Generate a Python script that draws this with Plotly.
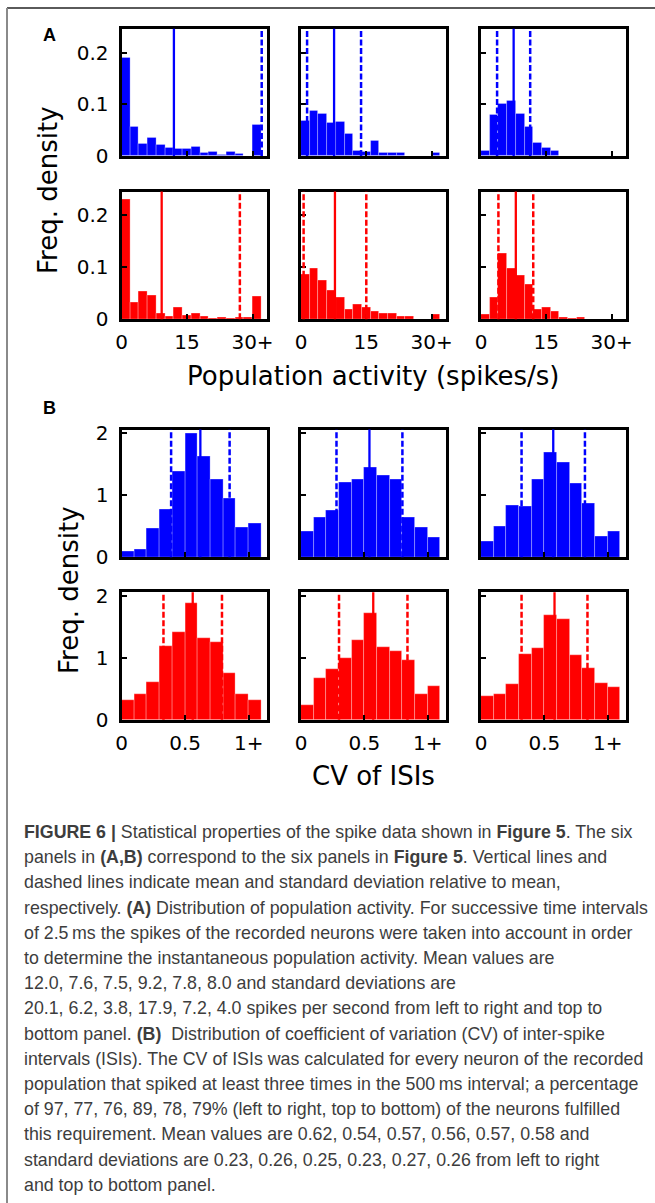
import plotly.graph_objects as go

W, H = 655, 1203

# ---- data ----
# population activity: bins of 2 spikes/s, last bin collects 30+
pop_edges = [0, 2, 4, 6, 8, 10, 12, 14, 16, 18, 20, 22, 24, 26, 28, 30, 32]
pop_top_left = [0.19, 0.057, 0.023, 0.036, 0.021, 0.016, 0.013, 0.013, 0.018, 0.006, 0.008, 0.003, 0.008, 0.004, 0.001, 0.06]
pop_top_mid = [0.069, 0.087, 0.082, 0.064, 0.067, 0.042, 0.011, 0.008, 0.029, 0.006, 0.006, 0.006, 0.0, 0.0, 0.0, 0.006]
pop_top_right = [0.010, 0.079, 0.100, 0.107, 0.082, 0.057, 0.026, 0.016, 0.011, 0.0, 0.0, 0.0, 0.0, 0.0, 0.0, 0.0]
pop_bot_left = [0.23, 0.032, 0.053, 0.046, 0.011, 0.006, 0.022, 0.008, 0.011, 0.006, 0.001, 0.004, 0.001, 0.004, 0.004, 0.044]
pop_bot_mid = [0.086, 0.098, 0.074, 0.056, 0.041, 0.018, 0.029, 0.022, 0.014, 0.011, 0.011, 0.006, 0.006, 0.0, 0.0, 0.009]
pop_bot_right = [0.009, 0.041, 0.126, 0.098, 0.084, 0.067, 0.019, 0.022, 0.014, 0.004, 0.001, 0.004, 0.0, 0.0, 0.0, 0.0]
pop_mean = [12.0, 7.6, 7.5, 9.2, 7.8, 8.0]
pop_std = [20.1, 6.2, 3.8, 17.9, 7.2, 4.0]

# CV of ISIs: bins of 0.1, last bin collects 1+
cv_edges = [0.0, 0.1, 0.2, 0.3, 0.4, 0.5, 0.6, 0.7, 0.8, 0.9, 1.0, 1.1]
cv_top_left = [0.10, 0.12, 0.46, 0.77, 1.39, 2.0, 1.63, 1.25, 0.95, 0.48, 0.55]
cv_top_mid = [0.41, 0.64, 0.76, 1.2, 1.25, 1.44, 1.32, 1.25, 0.64, 0.48, 0.32]
cv_top_right = [0.25, 0.50, 0.84, 0.82, 1.26, 1.69, 1.52, 1.19, 0.86, 0.34, 0.41]
cv_bot_left = [0.31, 0.42, 0.60, 1.19, 1.42, 1.89, 1.32, 1.26, 0.76, 0.41, 0.32]
cv_bot_mid = [0.23, 0.67, 0.81, 1.0, 1.28, 1.72, 1.17, 1.10, 0.97, 0.42, 0.55]
cv_bot_right = [0.38, 0.41, 0.57, 1.06, 1.15, 1.69, 1.63, 1.05, 0.84, 0.59, 0.52]
cv_mean = [0.62, 0.54, 0.57, 0.56, 0.57, 0.58]
cv_std = [0.23, 0.26, 0.25, 0.23, 0.27, 0.26]

pop_ticks = [0, 15, 30]
pop_ticktext = ["0", "15", "30+"]
pop_yticks = [0, 0.1, 0.2]
pop_yticktext = ["0", "0.1", "0.2"]
cv_ticks = [0, 0.5, 1.0]
cv_ticktext = ["0", "0.5", "1+"]
cv_yticks = [0, 1, 2]
cv_yticktext = ["0", "1", "2"]

caption_lines = [
    "<b>FIGURE 6 |</b> Statistical properties of the spike data shown in <b>Figure 5</b>. The six",
    "panels in <b>(A,B)</b> correspond to the six panels in <b>Figure 5</b>. Vertical lines and",
    "dashed lines indicate mean and standard deviation relative to mean,",
    "respectively. <b>(A)</b> Distribution of population activity. For successive time intervals",
    "of 2.5\u2009ms the spikes of the recorded neurons were taken into account in order",
    "to determine the instantaneous population activity. Mean values are",
    "12.0, 7.6, 7.5, 9.2, 7.8, 8.0 and standard deviations are",
    "20.1, 6.2, 3.8, 17.9, 7.2, 4.0 spikes per second from left to right and top to",
    "bottom panel. <b>(B)</b>  Distribution of coefficient of variation (CV) of inter-spike",
    "intervals (ISIs). The CV of ISIs was calculated for every neuron of the recorded",
    "population that spiked at least three times in the 500\u2009ms interval; a percentage",
    "of 97, 77, 76, 89, 78, 79% (left to right, top to bottom) of the neurons fulfilled",
    "this requirement. Mean values are 0.62, 0.54, 0.57, 0.56, 0.57, 0.58 and",
    "standard deviations are 0.23, 0.26, 0.25, 0.23, 0.27, 0.26 from left to right",
    "and top to bottom panel.",
]

# ---- layout in pixels ----
cols_px = [(121.5, 266.5), (301, 445.5), (481, 625.5)]
rows_px = [(28.8, 156), (191.5, 319.2), (429.5, 557.2), (592.2, 719.8)]

def fx(p):
    return p / W

def fy(p):
    return 1 - p / H

panels = [
    # row, col, edges, values, mean, std, color, kind
    (0, 0, pop_edges, pop_top_left, pop_mean[0], pop_std[0], "blue", "pop"),
    (0, 1, pop_edges, pop_top_mid, pop_mean[1], pop_std[1], "blue", "pop"),
    (0, 2, pop_edges, pop_top_right, pop_mean[2], pop_std[2], "blue", "pop"),
    (1, 0, pop_edges, pop_bot_left, pop_mean[3], pop_std[3], "red", "pop"),
    (1, 1, pop_edges, pop_bot_mid, pop_mean[4], pop_std[4], "red", "pop"),
    (1, 2, pop_edges, pop_bot_right, pop_mean[5], pop_std[5], "red", "pop"),
    (2, 0, cv_edges, cv_top_left, cv_mean[0], cv_std[0], "blue", "cv"),
    (2, 1, cv_edges, cv_top_mid, cv_mean[1], cv_std[1], "blue", "cv"),
    (2, 2, cv_edges, cv_top_right, cv_mean[2], cv_std[2], "blue", "cv"),
    (3, 0, cv_edges, cv_bot_left, cv_mean[3], cv_std[3], "red", "cv"),
    (3, 1, cv_edges, cv_bot_mid, cv_mean[4], cv_std[4], "red", "cv"),
    (3, 2, cv_edges, cv_bot_right, cv_mean[5], cv_std[5], "red", "cv"),
]

tick_font = dict(family="DejaVu Sans", size=20, color="black")
fig = go.Figure()
layout = {}
shapes = []

for k, (r, c, edges, vals, mean, std, color, kind) in enumerate(panels):
    n = "" if k == 0 else str(k + 1)
    centers = [(edges[i] + edges[i + 1]) / 2 for i in range(len(vals))]
    widths = [edges[i + 1] - edges[i] for i in range(len(vals))]
    fig.add_trace(go.Bar(
        x=centers, y=vals, width=widths,
        marker=dict(color=color, line=dict(color="rgba(255,255,255,0.35)", width=0.8)),
        xaxis="x" + n, yaxis="y" + n, showlegend=False, hoverinfo="skip"))

    if kind == "pop":
        xr, xt, xtt, yr, yt, ytt = [0, 33.2], pop_ticks, pop_ticktext, [0, 0.246], pop_yticks, pop_yticktext
    else:
        xr, xt, xtt, yr, yt, ytt = [0, 1.14], cv_ticks, cv_ticktext, [0, 2.06], cv_yticks, cv_yticktext

    x0, x1 = cols_px[c]
    y0, y1 = rows_px[r]
    common = dict(showline=True, linecolor="black", linewidth=3, mirror=True,
                  ticks="inside", ticklen=5, tickwidth=1.5, tickcolor="black",
                  showgrid=False, zeroline=False, tickfont=tick_font, fixedrange=True,
                  automargin=False)
    layout["xaxis" + n] = dict(common, domain=[fx(x0), fx(x1)], range=xr, anchor="y" + n,
                               tickvals=xt, ticktext=xtt, showticklabels=(r in (1, 3)),
                               ticklabelstandoff=3)
    layout["yaxis" + n] = dict(common, domain=[fy(y1), fy(y0)], range=yr, anchor="x" + n,
                               tickvals=yt, ticktext=ytt, showticklabels=(c == 0),
                               ticklabelstandoff=6)

    for val, dash, lw in [(mean, "solid", 2.3), (mean - std, "6px,2.5px", 2.5), (mean + std, "6px,2.5px", 2.5)]:
        if xr[0] <= val <= xr[1]:
            shapes.append(dict(type="line", xref="x" + n, yref="y" + n + " domain",
                               x0=val, x1=val, y0=0, y1=1,
                               line=dict(color=color, width=lw, dash=dash)))

# outer frame of the figure box
shapes.append(dict(type="line", xref="paper", yref="paper", x0=fx(7), x1=1, y0=fy(8), y1=fy(8),
                   line=dict(color="#5a5a5a", width=2)))
shapes.append(dict(type="line", xref="paper", yref="paper", x0=fx(7), x1=fx(7), y0=fy(8), y1=0,
                   line=dict(color="#8a8a8a", width=2)))

title_font = dict(family="DejaVu Sans", size=26, color="black")
label_font = dict(family="Liberation Sans", size=18, color="black")
annotations = [
    dict(text="<b>A</b>", x=fx(49), y=fy(35), font=label_font, xanchor="center", yanchor="middle"),
    dict(text="<b>B</b>", x=fx(49), y=fy(408), font=label_font, xanchor="center", yanchor="middle"),
    dict(text="Freq. density", x=fx(48), y=fy(190), textangle=-90, font=title_font,
         xanchor="center", yanchor="middle"),
    dict(text="Freq. density", x=fx(69), y=fy(590), textangle=-90, font=title_font,
         xanchor="center", yanchor="middle"),
    dict(text="Population activity (spikes/s)", x=fx(373), y=fy(376), font=title_font,
         xanchor="center", yanchor="middle"),
    dict(text="CV of ISIs", x=fx(373), y=fy(776), font=title_font,
         xanchor="center", yanchor="middle"),
]

for i, line in enumerate(caption_lines):
    annotations.append(dict(text=line, x=fx(22), y=fy(832 + 25.2 * i), xanchor="left", yanchor="middle",
                            font=dict(family="Liberation Sans", size=17.8, color="#3d3d3d")))

for a in annotations:
    a.update(xref="paper", yref="paper", showarrow=False)

fig.update_layout(
    width=W, height=H,
    margin=dict(l=0, r=0, t=0, b=0, autoexpand=False),
    paper_bgcolor="white", plot_bgcolor="white",
    bargap=0,
    shapes=shapes,
    annotations=annotations,
    **layout,
)

# the page body has a default 8px margin; drop it so the figure fills the window
fig.write_html("out.html", config={"displayModeBar": False},
               post_script="document.body.style.margin='0px';")
